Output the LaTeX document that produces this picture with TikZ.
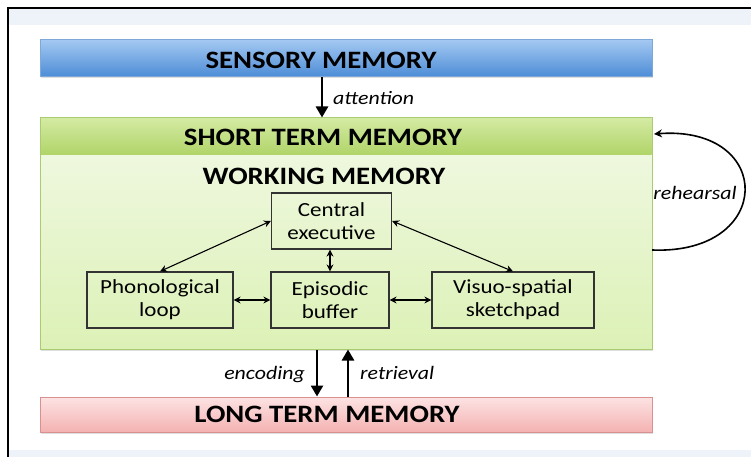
\documentclass[tikz,border=0pt]{standalone}
\usepackage{fontspec}
\setmainfont[FakeStretch=1.15]{Carlito}
\usetikzlibrary{arrows.meta,shadows}
\definecolor{bandc}{HTML}{EEF2F9}
\definecolor{smtop}{HTML}{A3C8F2}
\definecolor{smbot}{HTML}{4C8CD6}
\definecolor{smbord}{HTML}{7DA8D8}
\definecolor{sttop}{HTML}{D3EAA2}
\definecolor{stbot}{HTML}{B0D468}
\definecolor{stbord}{HTML}{A9CC72}
\definecolor{bdtop}{HTML}{F2F9E6}
\definecolor{bdbot}{HTML}{DCF1B6}
\definecolor{lttop}{HTML}{FDE3E3}
\definecolor{ltbot}{HTML}{F4B2B2}
\definecolor{ltbord}{HTML}{D99090}
\definecolor{boxline}{HTML}{333333}
\tikzset{
  bigbox/.style={minimum width=612pt, inner sep=0pt, line width=1pt,
    drop shadow={opacity=0.25, shadow xshift=1pt, shadow yshift=-1.5pt}},
  title/.style={font=\fontsize{25}{30}\selectfont\bfseries, inner sep=0pt, anchor=base},
  innerbox/.style={draw=boxline, line width=1.2pt, align=center, minimum height=56pt,
    inner sep=0pt, font=\fontsize{20}{23}\selectfont},
  lab/.style={font=\fontsize{19}{22}\selectfont\itshape, inner sep=0pt, anchor=base},
  thickarrow/.style={line width=2.6pt, -{Triangle[length=11pt,width=12pt]}},
  thinarrow/.style={line width=1.1pt, {Stealth[length=7pt,width=7pt]}-{Stealth[length=7pt,width=7pt]}},
}
\begin{document}
\begin{tikzpicture}[x=1pt,y=-1pt]
\useasboundingbox (0,0) rectangle (751,457);
\fill[white] (0,0) rectangle (751,457);
\fill[bandc] (8,8) rectangle (751,25);
\fill[bandc] (8,450) rectangle (751,457);
\draw[line width=2pt] (8,457) -- (8,8) -- (751,8);

% sensory memory
\node[bigbox, draw=smbord, top color=smtop, bottom color=smbot, minimum height=37pt] (sm) at (346,58.5) {};
\node[title] (smt) at (321,69) {SENSORY MEMORY};

% short term memory
\node[bigbox, draw=stbord, top color=bdtop, bottom color=bdbot, minimum height=231pt] (stm) at (346,233.5) {};
\shade[top color=sttop, bottom color=stbot] (40.5,118.5) rectangle (651.5,155);
\draw[stbord, line width=1pt] (40,118) rectangle (652,349);
\node[title] (stmt) at (323,146) {SHORT TERM MEMORY};
\node[title] (wmt) at (324,184) {WORKING MEMORY};

% long term memory
\node[bigbox, draw=ltbord, top color=lttop, bottom color=ltbot, minimum height=35pt] (ltm) at (346,414.5) {};
\node[title] (ltmt) at (327,422) {LONG TERM MEMORY};

% inner boxes
\node[innerbox, minimum width=120pt] (ce) at (331.5,221) {Central\\executive};
\node[innerbox, minimum width=146pt] (pl) at (160,300) {Phonological\\loop};
\node[innerbox, minimum width=118pt] (eb) at (330,300) {Episodic\\buffer};
\node[innerbox, minimum width=162pt] (vs) at (513,300) {Visuo-spatial\\sketchpad};

\draw[thinarrow] (ce.west) -- (pl.north);
\draw[thinarrow] (ce.east) -- (vs.north);
\draw[thinarrow] (ce.south -| eb.north) -- (eb.north);
\draw[thinarrow] (pl.east) -- (eb.west);
\draw[thinarrow] (eb.east) -- (vs.west);

% vertical arrows
\coordinate (ax) at (322,0);
\coordinate (ex) at (317,0);
\coordinate (rx) at (348,0);
\draw[thickarrow] (ax |- sm.south) -- (ax |- stm.north);
\node[lab, anchor=base west] (att) at (333,105) {attention};
\draw[thickarrow] (ex |- stm.south) -- (ex |- ltm.north);
\draw[thickarrow] (rx |- ltm.north) -- (rx |- stm.south);
\node[lab, anchor=base east] (enc) at (305,379) {encoding};
\node[lab, anchor=base west] (ret) at (360,379) {retrieval};

% rehearsal
\coordinate (r1) at (652,250);
\coordinate (r2) at (654,134);
\draw[line width=1.6pt, -{Stealth[length=8pt,width=8pt]}] (r1) .. controls (775,255) and (775,125) .. (r2);
\node[lab] (reh) at (695,199) {rehearsal};
\end{tikzpicture}
\end{document}
